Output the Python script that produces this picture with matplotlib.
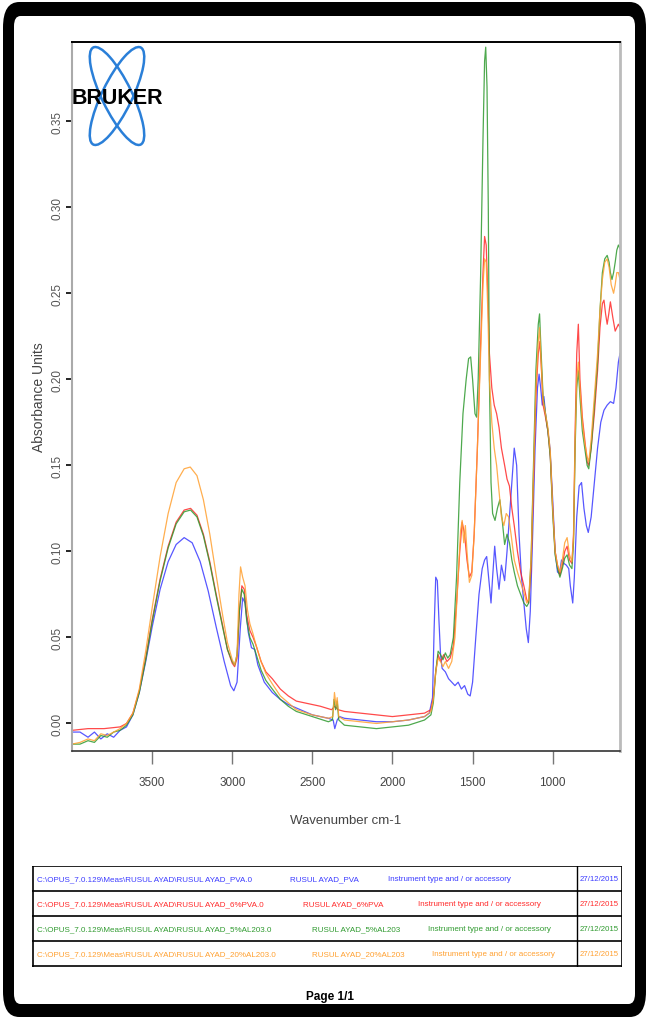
import matplotlib
matplotlib.use("Agg")
import matplotlib.pyplot as plt
import numpy as np
from matplotlib.patches import Ellipse, FancyBboxPatch

NARROW = ["Liberation Sans", "DejaVu Sans"]

# ---- spectra (wavenumber cm-1, absorbance) ----
wn_pva = [4000, 3950, 3900, 3860, 3820, 3780, 3740, 3700, 3660, 3620, 3580, 3540, 3500, 3450, 3400,
          3350, 3300, 3250, 3200, 3150, 3100, 3050, 3010, 2990, 2970, 2950, 2935, 2920, 2900, 2880,
          2860, 2840, 2800, 2750, 2700, 2650, 2600, 2500, 2400, 2370, 2360, 2345, 2330, 2300, 2200,
          2100, 2000, 1900, 1800, 1770, 1750, 1740, 1730, 1720, 1710, 1700, 1690, 1670, 1650, 1630,
          1610, 1590, 1570, 1550, 1530, 1515, 1500, 1480, 1460, 1440, 1425, 1412, 1400, 1385, 1375,
          1362, 1350, 1335, 1320, 1300, 1285, 1270, 1255, 1240, 1225, 1210, 1195, 1180, 1165, 1152,
          1140, 1125, 1110, 1095, 1085, 1075, 1065, 1055, 1045, 1030, 1017, 1000, 985, 970, 958,
          945, 930, 915, 900, 890, 875, 865, 850, 835, 820, 805, 790, 778, 760, 740, 720, 700, 680,
          660, 640, 620, 605, 590, 580]
ab_pva = [-0.005, -0.005, -0.008, -0.005, -0.009, -0.006, -0.008, -0.004, -0.002, 0.005, 0.018, 0.036,
          0.056, 0.078, 0.094, 0.104, 0.108, 0.105, 0.094, 0.077, 0.056, 0.036, 0.022, 0.019, 0.024,
          0.055, 0.073, 0.070, 0.053, 0.044, 0.043, 0.034, 0.024, 0.018, 0.014, 0.011, 0.009, 0.005,
          0.003, 0.002, -0.003, 0.002, 0.004, 0.003, 0.002, 0.001, 0.001, 0.002, 0.004, 0.006, 0.015,
          0.055, 0.085, 0.083, 0.060, 0.040, 0.032, 0.030, 0.026, 0.024, 0.022, 0.024, 0.020, 0.022,
          0.017, 0.016, 0.024, 0.050, 0.075, 0.090, 0.095, 0.097, 0.085, 0.070, 0.085, 0.103, 0.090,
          0.078, 0.092, 0.083, 0.100, 0.120, 0.140, 0.160, 0.150, 0.110, 0.085, 0.070, 0.055, 0.047,
          0.065, 0.110, 0.160, 0.195, 0.203, 0.195, 0.185, 0.190, 0.180, 0.170, 0.160, 0.130, 0.100,
          0.088, 0.087, 0.095, 0.093, 0.092, 0.090, 0.080, 0.070, 0.085, 0.120, 0.138, 0.140, 0.125,
          0.115, 0.111, 0.120, 0.140, 0.160, 0.175, 0.182, 0.185, 0.187, 0.186, 0.195, 0.210, 0.215]

wn_6pva = [4000, 3900, 3800, 3700, 3660, 3620, 3580, 3540, 3500, 3450, 3400, 3350, 3300, 3260, 3220,
           3180, 3140, 3100, 3060, 3030, 3000, 2985, 2970, 2955, 2940, 2925, 2910, 2890, 2870, 2850,
           2820, 2790, 2750, 2700, 2650, 2600, 2550, 2450, 2380, 2360, 2340, 2300, 2200, 2100, 2000,
           1900, 1800, 1760, 1745, 1730, 1715, 1700, 1680, 1660, 1640, 1620, 1600, 1580, 1565, 1550,
           1535, 1520, 1505, 1490, 1470, 1450, 1435, 1425, 1415, 1405, 1395, 1380, 1365, 1350, 1335,
           1320, 1300, 1285, 1270, 1255, 1240, 1220, 1200, 1180, 1162, 1150, 1135, 1120, 1105, 1090,
           1080, 1070, 1060, 1045, 1030, 1015, 1000, 985, 970, 955, 940, 925, 910, 895, 880, 870, 860,
           850, 840, 830, 815, 800, 785, 775, 760, 740, 720, 705, 690, 680, 670, 660, 650, 640, 625,
           610, 600, 590, 580]
ab_6pva = [-0.004, -0.003, -0.003, -0.002, 0.000, 0.006, 0.019, 0.038, 0.060, 0.084, 0.103, 0.117,
           0.124, 0.125, 0.121, 0.110, 0.094, 0.075, 0.057, 0.043, 0.035, 0.033, 0.038, 0.065, 0.080,
           0.078, 0.063, 0.054, 0.050, 0.045, 0.036, 0.030, 0.026, 0.020, 0.016, 0.013, 0.012, 0.010,
           0.008, 0.010, 0.008, 0.007, 0.006, 0.005, 0.004, 0.005, 0.006, 0.008, 0.015, 0.030, 0.040,
           0.036, 0.040, 0.036, 0.038, 0.045, 0.070, 0.100, 0.117, 0.110, 0.095, 0.085, 0.088, 0.110,
           0.160, 0.220, 0.262, 0.283, 0.278, 0.250, 0.215, 0.195, 0.185, 0.180, 0.172, 0.160, 0.150,
           0.142, 0.138, 0.125, 0.115, 0.100, 0.088, 0.080, 0.072, 0.070, 0.090, 0.140, 0.190, 0.215,
           0.222, 0.205, 0.185, 0.178, 0.170, 0.155, 0.125, 0.100, 0.092, 0.086, 0.092, 0.100, 0.103,
           0.095, 0.093, 0.110, 0.170, 0.215, 0.232, 0.200, 0.178, 0.165, 0.152, 0.150, 0.160, 0.180,
           0.205, 0.230, 0.244, 0.246, 0.238, 0.232, 0.238, 0.245, 0.236, 0.228, 0.230, 0.232, 0.230]

wn_5al = [4000, 3950, 3900, 3860, 3820, 3780, 3740, 3700, 3660, 3620, 3580, 3540, 3500, 3450, 3400,
          3350, 3300, 3260, 3220, 3180, 3140, 3100, 3060, 3030, 3000, 2985, 2970, 2955, 2940, 2925,
          2910, 2890, 2870, 2850, 2820, 2790, 2750, 2700, 2650, 2600, 2500, 2400, 2375, 2365, 2355,
          2345, 2335, 2300, 2200, 2100, 2000, 1900, 1800, 1760, 1745, 1730, 1715, 1700, 1685, 1670,
          1655, 1640, 1620, 1600, 1580, 1560, 1540, 1525, 1512, 1500, 1485, 1475, 1465, 1450, 1435,
          1425, 1418, 1410, 1402, 1395, 1385, 1375, 1360, 1345, 1330, 1315, 1300, 1285, 1270, 1255,
          1240, 1220, 1200, 1180, 1162, 1150, 1135, 1120, 1105, 1090, 1082, 1072, 1060, 1045, 1030,
          1015, 1000, 985, 970, 955, 940, 925, 910, 895, 880, 870, 860, 850, 840, 830, 815, 800, 785,
          775, 760, 740, 720, 705, 690, 675, 660, 648, 640, 630, 620, 610, 600, 590, 580]
ab_5al = [-0.012, -0.012, -0.010, -0.011, -0.007, -0.008, -0.005, -0.004, -0.001, 0.005, 0.018, 0.037,
          0.059, 0.083, 0.102, 0.116, 0.123, 0.124, 0.120, 0.109, 0.093, 0.074, 0.056, 0.043, 0.036,
          0.034, 0.040, 0.066, 0.078, 0.075, 0.060, 0.050, 0.046, 0.040, 0.031, 0.025, 0.020, 0.014,
          0.010, 0.007, 0.004, 0.001, 0.002, 0.014, 0.008, 0.013, 0.002, -0.001, -0.002, -0.003, -0.002,
          -0.001, 0.002, 0.005, 0.012, 0.030, 0.042, 0.040, 0.037, 0.041, 0.038, 0.040, 0.050, 0.085,
          0.140, 0.180, 0.200, 0.212, 0.213, 0.200, 0.180, 0.178, 0.200, 0.260, 0.340, 0.385, 0.393,
          0.370, 0.300, 0.200, 0.140, 0.122, 0.118, 0.125, 0.130, 0.118, 0.104, 0.110, 0.105, 0.095,
          0.088, 0.080, 0.075, 0.070, 0.068, 0.070, 0.095, 0.150, 0.205, 0.232, 0.238, 0.215, 0.190,
          0.180, 0.170, 0.155, 0.122, 0.098, 0.090, 0.085, 0.090, 0.096, 0.098, 0.092, 0.090, 0.105,
          0.160, 0.195, 0.205, 0.190, 0.170, 0.160, 0.150, 0.148, 0.160, 0.185, 0.210, 0.240, 0.262,
          0.270, 0.272, 0.268, 0.262, 0.258, 0.262, 0.268, 0.275, 0.278, 0.276]

wn_20al = [4000, 3950, 3900, 3860, 3820, 3780, 3740, 3700, 3660, 3620, 3580, 3540, 3500, 3450, 3400,
           3350, 3300, 3262, 3220, 3180, 3140, 3100, 3060, 3030, 3000, 2985, 2970, 2958, 2948, 2935,
           2920, 2905, 2890, 2870, 2850, 2820, 2790, 2750, 2700, 2650, 2600, 2500, 2400, 2372, 2362,
           2352, 2345, 2335, 2300, 2200, 2100, 2000, 1900, 1800, 1760, 1745, 1730, 1715, 1700, 1685,
           1670, 1650, 1630, 1610, 1590, 1575, 1565, 1555, 1545, 1535, 1520, 1505, 1490, 1470, 1450,
           1435, 1425, 1415, 1405, 1395, 1380, 1365, 1350, 1335, 1320, 1305, 1290, 1275, 1260, 1240,
           1220, 1200, 1180, 1162, 1150, 1135, 1120, 1105, 1090, 1082, 1072, 1060, 1045, 1030, 1015,
           1000, 985, 970, 955, 940, 925, 910, 895, 880, 870, 860, 850, 840, 830, 815, 800, 785, 775,
           760, 740, 720, 705, 690, 675, 660, 648, 635, 620, 610, 600, 590, 580]
ab_20al = [-0.012, -0.011, -0.009, -0.010, -0.006, -0.007, -0.005, -0.003, 0.000, 0.006, 0.020, 0.042,
           0.067, 0.097, 0.122, 0.140, 0.148, 0.149, 0.144, 0.130, 0.110, 0.086, 0.063, 0.047, 0.037,
           0.034, 0.040, 0.075, 0.091, 0.085, 0.080, 0.066, 0.058, 0.052, 0.045, 0.036, 0.029, 0.023,
           0.016, 0.012, 0.008, 0.005, 0.003, 0.004, 0.018, 0.010, 0.015, 0.004, 0.002, 0.001, 0.000,
           0.001, 0.002, 0.004, 0.007, 0.014, 0.030, 0.038, 0.036, 0.033, 0.036, 0.032, 0.036, 0.050,
           0.085, 0.112, 0.118, 0.105, 0.115, 0.100, 0.082, 0.086, 0.110, 0.160, 0.215, 0.255, 0.270,
           0.268, 0.240, 0.200, 0.175, 0.160, 0.150, 0.135, 0.120, 0.115, 0.122, 0.120, 0.110, 0.095,
           0.088, 0.082, 0.076, 0.070, 0.072, 0.095, 0.145, 0.195, 0.222, 0.230, 0.210, 0.188, 0.180,
           0.172, 0.158, 0.125, 0.100, 0.092, 0.088, 0.095, 0.105, 0.108, 0.098, 0.094, 0.108, 0.165,
           0.200, 0.210, 0.195, 0.175, 0.163, 0.155, 0.152, 0.165, 0.190, 0.215, 0.240, 0.258, 0.268,
           0.270, 0.265, 0.255, 0.250, 0.255, 0.262, 0.262, 0.258]

files = [r"C:\OPUS_7.0.129\Meas\RUSUL AYAD\RUSUL AYAD_PVA.0",
         r"C:\OPUS_7.0.129\Meas\RUSUL AYAD\RUSUL AYAD_6%PVA.0",
         r"C:\OPUS_7.0.129\Meas\RUSUL AYAD\RUSUL AYAD_5%AL203.0",
         r"C:\OPUS_7.0.129\Meas\RUSUL AYAD\RUSUL AYAD_20%AL203.0"]
samples = ["RUSUL AYAD_PVA", "RUSUL AYAD_6%PVA", "RUSUL AYAD_5%AL203", "RUSUL AYAD_20%AL203"]
instrument = "Instrument type and / or accessory"
date = "27/12/2015"
colors = ["#3a3aff", "#ff2a2a", "#2f9a2f", "#ffa030"]

series = [(wn_pva, ab_pva), (wn_6pva, ab_6pva), (wn_5al, ab_5al), (wn_20al, ab_20al)]

W, H = 649, 1020
fig = plt.figure(figsize=(W / 100, H / 100), dpi=100)
fig.patch.set_facecolor("white")


def fx(px):
    return px / W


def fy(py):
    return 1 - py / H


# black page frame with rounded corners
fig.patches.append(FancyBboxPatch((fx(3), fy(1018)), fx(643), 1015 / H,
                                  boxstyle="round,pad=0,rounding_size=0.025",
                                  transform=fig.transFigure, facecolor="black",
                                  edgecolor="none", zorder=-10))
fig.patches.append(FancyBboxPatch((fx(14), fy(1005)), fx(621), 988 / H,
                                  boxstyle="round,pad=0,rounding_size=0.01",
                                  transform=fig.transFigure, facecolor="white",
                                  edgecolor="none", zorder=-9))

# main spectrum axes
ax = fig.add_axes([fx(72), fy(752), fx(548), (752 - 43) / H])
ax.patch.set_alpha(0)
for (wn, ab), c in zip(series, colors):
    ax.plot(wn, ab, color=c, lw=0.9, alpha=0.85)

ax.set_xlim(4000, 580)
ax.set_ylim(-0.016, 0.396)
ax.set_xticks([3500, 3000, 2500, 2000, 1500, 1000])
ax.set_yticks(np.arange(0, 0.36, 0.05))
ax.set_yticklabels(["%.2f" % v for v in np.arange(0, 0.36, 0.05)], rotation=90,
                   va="center", family=NARROW, fontsize=8.5, color="#555555")
ax.set_xticklabels(["3500", "3000", "2500", "2000", "1500", "1000"],
                   family=NARROW, fontsize=8.5, color="#444444")
ax.tick_params(axis="x", direction="out", length=9, width=1, color="#777777", pad=9)
ax.tick_params(axis="y", direction="out", length=4, width=1.2, color="black", pad=2)
ax.spines["top"].set_color("black")
ax.spines["top"].set_linewidth(1.4)
ax.spines["bottom"].set_color("#333333")
ax.spines["bottom"].set_linewidth(1.2)
ax.spines["left"].set_color("#aaaaaa")
ax.spines["left"].set_linewidth(1.5)
ax.spines["right"].set_color("#bbbbbb")
ax.spines["right"].set_linewidth(2)
ax.set_xlabel("Wavenumber cm-1", family=NARROW, fontsize=9.5, color="#444444", labelpad=19)
ax.set_ylabel("Absorbance Units", family=NARROW, fontsize=10, color="#444444", labelpad=4)

# Bruker logo
logo = fig.add_axes([fx(82), fy(150), fx(70), 106 / H])
logo.set_xlim(0, 70)
logo.set_ylim(0, 106)
logo.axis("off")
logo.add_patch(Ellipse((35, 53), 30, 108, angle=26, fill=False, ec="#2a7fd8", lw=1.8))
logo.add_patch(Ellipse((35, 53), 30, 108, angle=-26, fill=False, ec="#2a7fd8", lw=1.8))
fig.text(fx(72), fy(98), "BRUKER", family=NARROW,
         weight="bold", fontsize=15.5, color="black", va="center", ha="left")

# file table
tab = fig.add_axes([fx(32), fy(968), fx(590), (968 - 867) / H])
tab.set_xlim(32, 622)
tab.set_ylim(968, 867)
tab.axis("off")
row_edges = [867, 892, 917, 942, 967]
for y in row_edges:
    tab.axhline(y, color="black", lw=1.2)
tab.axvline(32.5, color="black", lw=1.2)
tab.axvline(621.5, color="black", lw=1.2)
tab.axvline(577, color="black", lw=1)
col2 = [290, 303, 312, 312]
col3 = [388, 418, 428, 432]
for i in range(4):
    yc = (row_edges[i] + row_edges[i + 1]) / 2
    kw = dict(family=NARROW, fontsize=5.8, color=colors[i], va="center", ha="left")
    tab.text(37, yc, files[i], **kw)
    tab.text(col2[i], yc, samples[i], **kw)
    tab.text(col3[i], yc, instrument, **kw)
    tab.text(580, yc, date, family=NARROW, fontsize=5.6, color=colors[i],
             va="center", ha="left")

fig.text(fx(330), fy(997), "Page 1/1", family=NARROW, weight="bold", fontsize=8.5,
         color="black", ha="center", va="center")

fig.savefig("out.png", dpi=100)
